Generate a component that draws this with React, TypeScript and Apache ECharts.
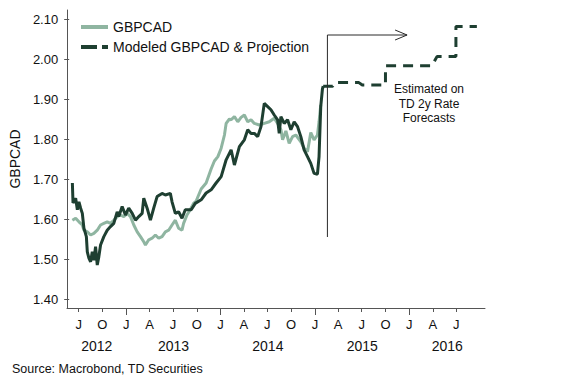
import React, { useEffect, useRef } from "react";
import * as echarts from "echarts";

// ---- axis range (dates of the visible x extent) ----
const AXIS_START = "2012-05-17";
const AXIS_END = "2016-10-20";
const END_LABEL_CLEARANCE_DAYS = 25;

// ---- y axis ----
const Y_MIN = 1.4;
const Y_MAX = 2.1;
const Y_INTERVAL = 0.1;

// ---- x tick labels ----
const MONTH_LETTERS = ["J", "F", "M", "A", "M", "J", "J", "A", "S", "O", "N", "D"];
const QUARTER_MONTHS = ["01", "04", "07", "10"];

// ---- GBPCAD (actual), x in decimal years ----
const GBPCAD_YEARS = [
  2012.408, 2012.443, 2012.478, 2012.514, 2012.531, 2012.567, 2012.602, 2012.637, 2012.673, 2012.708,
  2012.743, 2012.779, 2012.814, 2012.849, 2012.885, 2012.92, 2012.955, 2012.992, 2013.027, 2013.062,
  2013.098, 2013.133, 2013.168, 2013.186, 2013.221, 2013.257, 2013.292, 2013.327, 2013.363, 2013.398,
  2013.433, 2013.469, 2013.504, 2013.539, 2013.575, 2013.592, 2013.628, 2013.663, 2013.698, 2013.726,
  2013.779, 2013.832, 2013.885, 2013.92, 2013.957, 2013.992, 2014.027, 2014.045, 2014.08, 2014.098,
  2014.133, 2014.169, 2014.204, 2014.239, 2014.275, 2014.31, 2014.345, 2014.398, 2014.451, 2014.504,
  2014.557, 2014.593, 2014.628, 2014.646, 2014.681, 2014.716, 2014.752, 2014.787, 2014.84, 2014.875,
  2014.911, 2014.946, 2014.981, 2015.017, 2015.034, 2015.052,
];
const GBPCAD_VALUES = [
  1.597, 1.602, 1.593, 1.585, 1.572, 1.568, 1.56, 1.564, 1.572, 1.585,
  1.589, 1.593, 1.589, 1.597, 1.606, 1.61, 1.606, 1.614, 1.606, 1.585,
  1.568, 1.556, 1.543, 1.535, 1.548, 1.552, 1.56, 1.552, 1.556, 1.568,
  1.572, 1.585, 1.597, 1.577, 1.572, 1.589, 1.61, 1.623, 1.639, 1.645,
  1.675, 1.69, 1.725, 1.745, 1.756, 1.777, 1.81, 1.839, 1.85, 1.848,
  1.856, 1.843, 1.854, 1.86, 1.843, 1.848, 1.839, 1.835, 1.839, 1.843,
  1.852, 1.839, 1.823, 1.798, 1.82, 1.789, 1.806, 1.81, 1.793, 1.777,
  1.768, 1.816, 1.798, 1.81, 1.843, 1.885,
];

// ---- Modeled GBPCAD (history) ----
const MODELED_YEARS = [
  2012.408, 2012.415, 2012.443, 2012.461, 2012.478, 2012.496, 2012.514, 2012.531, 2012.557, 2012.567,
  2012.584, 2012.602, 2012.62, 2012.637, 2012.655, 2012.673, 2012.69, 2012.708, 2012.743, 2012.779,
  2012.814, 2012.849, 2012.885, 2012.902, 2012.938, 2012.973, 2013.008, 2013.045, 2013.08, 2013.115,
  2013.151, 2013.168, 2013.204, 2013.239, 2013.274, 2013.31, 2013.363, 2013.398, 2013.451, 2013.469,
  2013.504, 2013.539, 2013.575, 2013.61, 2013.673, 2013.716, 2013.779, 2013.832, 2013.885, 2013.938,
  2013.992, 2014.045, 2014.098, 2014.133, 2014.186, 2014.239, 2014.275, 2014.31, 2014.345, 2014.381,
  2014.416, 2014.451, 2014.487, 2014.522, 2014.557, 2014.593, 2014.61, 2014.628, 2014.663, 2014.699,
  2014.734, 2014.769, 2014.805, 2014.84, 2014.875, 2014.911, 2014.946, 2014.981, 2015.017, 2015.034,
  2015.052, 2015.07, 2015.078,
];
const MODELED_VALUES = [
  1.69, 1.64, 1.652, 1.623, 1.643, 1.627, 1.614, 1.577, 1.556, 1.518,
  1.502, 1.493, 1.518, 1.497, 1.531, 1.485, 1.506, 1.535, 1.556, 1.572,
  1.581, 1.589, 1.618, 1.606, 1.631, 1.61, 1.627, 1.614, 1.597, 1.606,
  1.614, 1.652, 1.627, 1.597, 1.627, 1.656, 1.664, 1.66, 1.664, 1.643,
  1.614, 1.618, 1.602, 1.623, 1.623, 1.639, 1.648, 1.665, 1.673, 1.69,
  1.706, 1.748, 1.773, 1.735, 1.781, 1.798, 1.823, 1.814, 1.814, 1.806,
  1.831, 1.889, 1.881, 1.873, 1.86, 1.848, 1.814, 1.856, 1.839, 1.848,
  1.823, 1.843, 1.831, 1.806, 1.773, 1.756, 1.739, 1.714, 1.712, 1.756,
  1.881, 1.925, 1.932,
];

// ---- Projection (dashed) ----
const PROJECTION_YEARS = [
  2015.078, 2015.179, 2015.2, 2015.458, 2015.494, 2015.741, 2015.741, 2016.236, 2016.289, 2016.491,
  2016.491, 2016.714,
];
const PROJECTION_VALUES = [
  1.932, 1.932, 1.941, 1.941, 1.935, 1.935, 1.983, 1.983, 2.006, 2.006,
  2.081, 2.081,
];

// ---- annotation bracket: [x, yBottom, yTop, xArrowTip] ----
const ANNOTATION = [2015.123, 1.555, 2.06, 2015.971];
const ANNOTATION_TEXT = "Estimated on\nTD 2y Rate\nForecasts";
const SOURCE_TEXT = "Source: Macrobond, TD Securities";

const LIGHT = "#8fb5a1";
const DARK = "#1e3f31";
const AXIS = "#555555";
const FONT = "'Liberation Sans', Arial, Helvetica, sans-serif";

function parseUTC(s: string) {
  const [y, m, d] = s.split("-").map(Number);
  return Date.UTC(y, m - 1, d);
}
function decimalYear(t: number) {
  const y = new Date(t).getUTCFullYear();
  const a = Date.UTC(y, 0, 1);
  const b = Date.UTC(y + 1, 0, 1);
  return y + (t - a) / (b - a);
}
function pad(n: number) {
  return n < 10 ? "0" + n : "" + n;
}
function buildDays(start: string, end: string) {
  const out: string[] = [];
  const DAY = 86400000;
  for (let t = parseUTC(start); t <= parseUTC(end); t += DAY) {
    const d = new Date(t);
    out.push(`${d.getUTCFullYear()}-${pad(d.getUTCMonth() + 1)}-${pad(d.getUTCDate())}`);
  }
  return out;
}

export default function App() {
  const ref = useRef<HTMLDivElement>(null);

  useEffect(() => {
    document.body.style.margin = "0";
    if (!ref.current) return;
    const chart = echarts.init(ref.current, undefined, { renderer: "svg" });

    const days = buildDays(AXIS_START, AXIS_END);
    const xMin = decimalYear(parseUTC(AXIS_START));
    const xMax = decimalYear(parseUTC(AXIS_END));
    const lastLabelIdx = days.length - 1 - END_LABEL_CLEARANCE_DAYS;

    const yearStarts: number[] = [];
    days.forEach((d, i) => {
      if (d.slice(5) === "01-01") yearStarts.push(i);
    });
    const bounds = [0, ...yearStarts, days.length - 1];
    const yearLabelIdx: number[] = [];
    for (let k = 0; k < bounds.length - 1; k++) {
      yearLabelIdx.push(Math.round((bounds[k] + bounds[k + 1]) / 2));
    }

    const isQuarter = (i: number, v: string) =>
      i <= lastLabelIdx && v.slice(8) === "01" && QUARTER_MONTHS.includes(v.slice(5, 7));
    const isYearStart = (_i: number, v: string) => v.slice(5) === "01-01";

    const zip = (xs: number[], ys: number[]) => xs.map((x, i) => [x, ys[i]]);

    const textStyle = { fontFamily: FONT, color: "#111" };

    chart.setOption({
      animation: false,
      backgroundColor: "#ffffff",
      textStyle: { fontFamily: FONT },
      grid: [
        { left: 67, right: 81, top: 19, bottom: 81 },
        { left: 67, right: 81, top: 10, bottom: 72 },
      ],
      legend: {
        left: 76,
        top: 15,
        orient: "vertical",
        itemWidth: 27,
        itemHeight: 14,
        itemGap: 6,
        selectedMode: false,
        textStyle: { ...textStyle, fontSize: 14 },
        data: [
          { name: "GBPCAD", icon: "path://M0,0h27v4h-27z", itemStyle: { color: LIGHT, borderWidth: 0 } },
          {
            name: "Modeled GBPCAD & Projection",
            icon: "path://M0,0h16v4h-16zM21,0h6v4h-6z",
            itemStyle: { color: DARK, borderWidth: 0 },
          },
        ],
      },
      xAxis: [
        { gridIndex: 0, type: "value", min: xMin, max: xMax, show: false },
        {
          gridIndex: 1,
          type: "category",
          position: "bottom",
          data: days,
          boundaryGap: false,
          axisLine: { show: true, lineStyle: { color: AXIS, width: 1 } },
          axisTick: { show: true, interval: isQuarter, length: 4, lineStyle: { color: AXIS } },
          axisLabel: {
            show: true,
            interval: isQuarter,
            margin: 10,
            fontSize: 13,
            ...textStyle,
            formatter: (v: string) => MONTH_LETTERS[parseInt(v.slice(5, 7), 10) - 1],
          },
          splitLine: { show: false },
        },
        {
          gridIndex: 1,
          type: "category",
          position: "bottom",
          data: days,
          boundaryGap: false,
          axisLine: { show: false },
          axisTick: { show: true, interval: isYearStart, length: 7, lineStyle: { color: AXIS } },
          axisLabel: {
            show: true,
            interval: (i: number) => yearLabelIdx.includes(i),
            margin: 31,
            fontSize: 14,
            ...textStyle,
            formatter: (v: string) => v.slice(0, 4),
          },
          splitLine: { show: false },
        },
      ],
      yAxis: [
        {
          gridIndex: 0,
          type: "value",
          min: Y_MIN,
          max: Y_MAX,
          interval: Y_INTERVAL,
          axisLine: { show: false },
          axisTick: { show: true, length: 5, lineStyle: { color: AXIS } },
          axisLabel: {
            margin: 11,
            fontSize: 13,
            ...textStyle,
            formatter: (v: number) => v.toFixed(2),
          },
          splitLine: { show: false },
          name: "GBPCAD",
          nameLocation: "middle",
          nameGap: 42,
          nameTextStyle: { ...textStyle, fontSize: 14 },
        },
        {
          gridIndex: 1,
          type: "value",
          min: 0,
          max: 1,
          axisLine: { show: true, lineStyle: { color: AXIS, width: 1 } },
          axisTick: { show: false },
          axisLabel: { show: false },
          splitLine: { show: false },
        },
      ],
      series: [
        {
          name: "GBPCAD",
          type: "line",
          xAxisIndex: 0,
          yAxisIndex: 0,
          data: zip(GBPCAD_YEARS, GBPCAD_VALUES),
          symbol: "none",
          lineStyle: { color: LIGHT, width: 3 },
          itemStyle: { color: LIGHT },
          z: 2,
        },
        {
          name: "Modeled GBPCAD & Projection",
          type: "line",
          xAxisIndex: 0,
          yAxisIndex: 0,
          data: zip(PROJECTION_YEARS, PROJECTION_VALUES),
          symbol: "none",
          lineStyle: { color: DARK, width: 3, type: [10, 7] },
          itemStyle: { color: DARK },
          z: 3,
        },
        {
          name: "Modeled GBPCAD & Projection",
          type: "line",
          xAxisIndex: 0,
          yAxisIndex: 0,
          data: zip(MODELED_YEARS, MODELED_VALUES),
          symbol: "none",
          lineStyle: { color: DARK, width: 3 },
          itemStyle: { color: DARK },
          z: 3,
        },
        {
          type: "custom",
          xAxisIndex: 0,
          yAxisIndex: 0,
          silent: true,
          z: 4,
          data: [ANNOTATION],
          encode: { x: [0, 3], y: [1, 2] },
          renderItem: (_p: any, api: any) => {
            const p1 = api.coord([api.value(0), api.value(1)]);
            const p2 = api.coord([api.value(0), api.value(2)]);
            const p3 = api.coord([api.value(3), api.value(2)]);
            const style = { stroke: "#2a2a2a", lineWidth: 1, fill: null };
            return {
              type: "group",
              children: [
                { type: "polyline", shape: { points: [p1, p2, p3] }, style },
                {
                  type: "polyline",
                  shape: { points: [[p3[0] - 12, p3[1] - 5], p3, [p3[0] - 12, p3[1] + 5]] },
                  style,
                },
              ],
            };
          },
        },
      ],
      graphic: [
        {
          type: "text",
          x: 429,
          y: 82,
          style: {
            text: ANNOTATION_TEXT,
            align: "center",
            verticalAlign: "top",
            fontFamily: FONT,
            fontSize: 12,
            lineHeight: 14.5,
            fill: "#111",
          },
        },
        {
          type: "text",
          x: 12,
          y: 369,
          style: {
            text: SOURCE_TEXT,
            align: "left",
            verticalAlign: "middle",
            fontFamily: FONT,
            fontSize: 12.5,
            fill: "#111",
          },
        },
      ],
    });

    return () => chart.dispose();
  }, []);

  return <div ref={ref} style={{ width: 566, height: 380 }} />;
}
